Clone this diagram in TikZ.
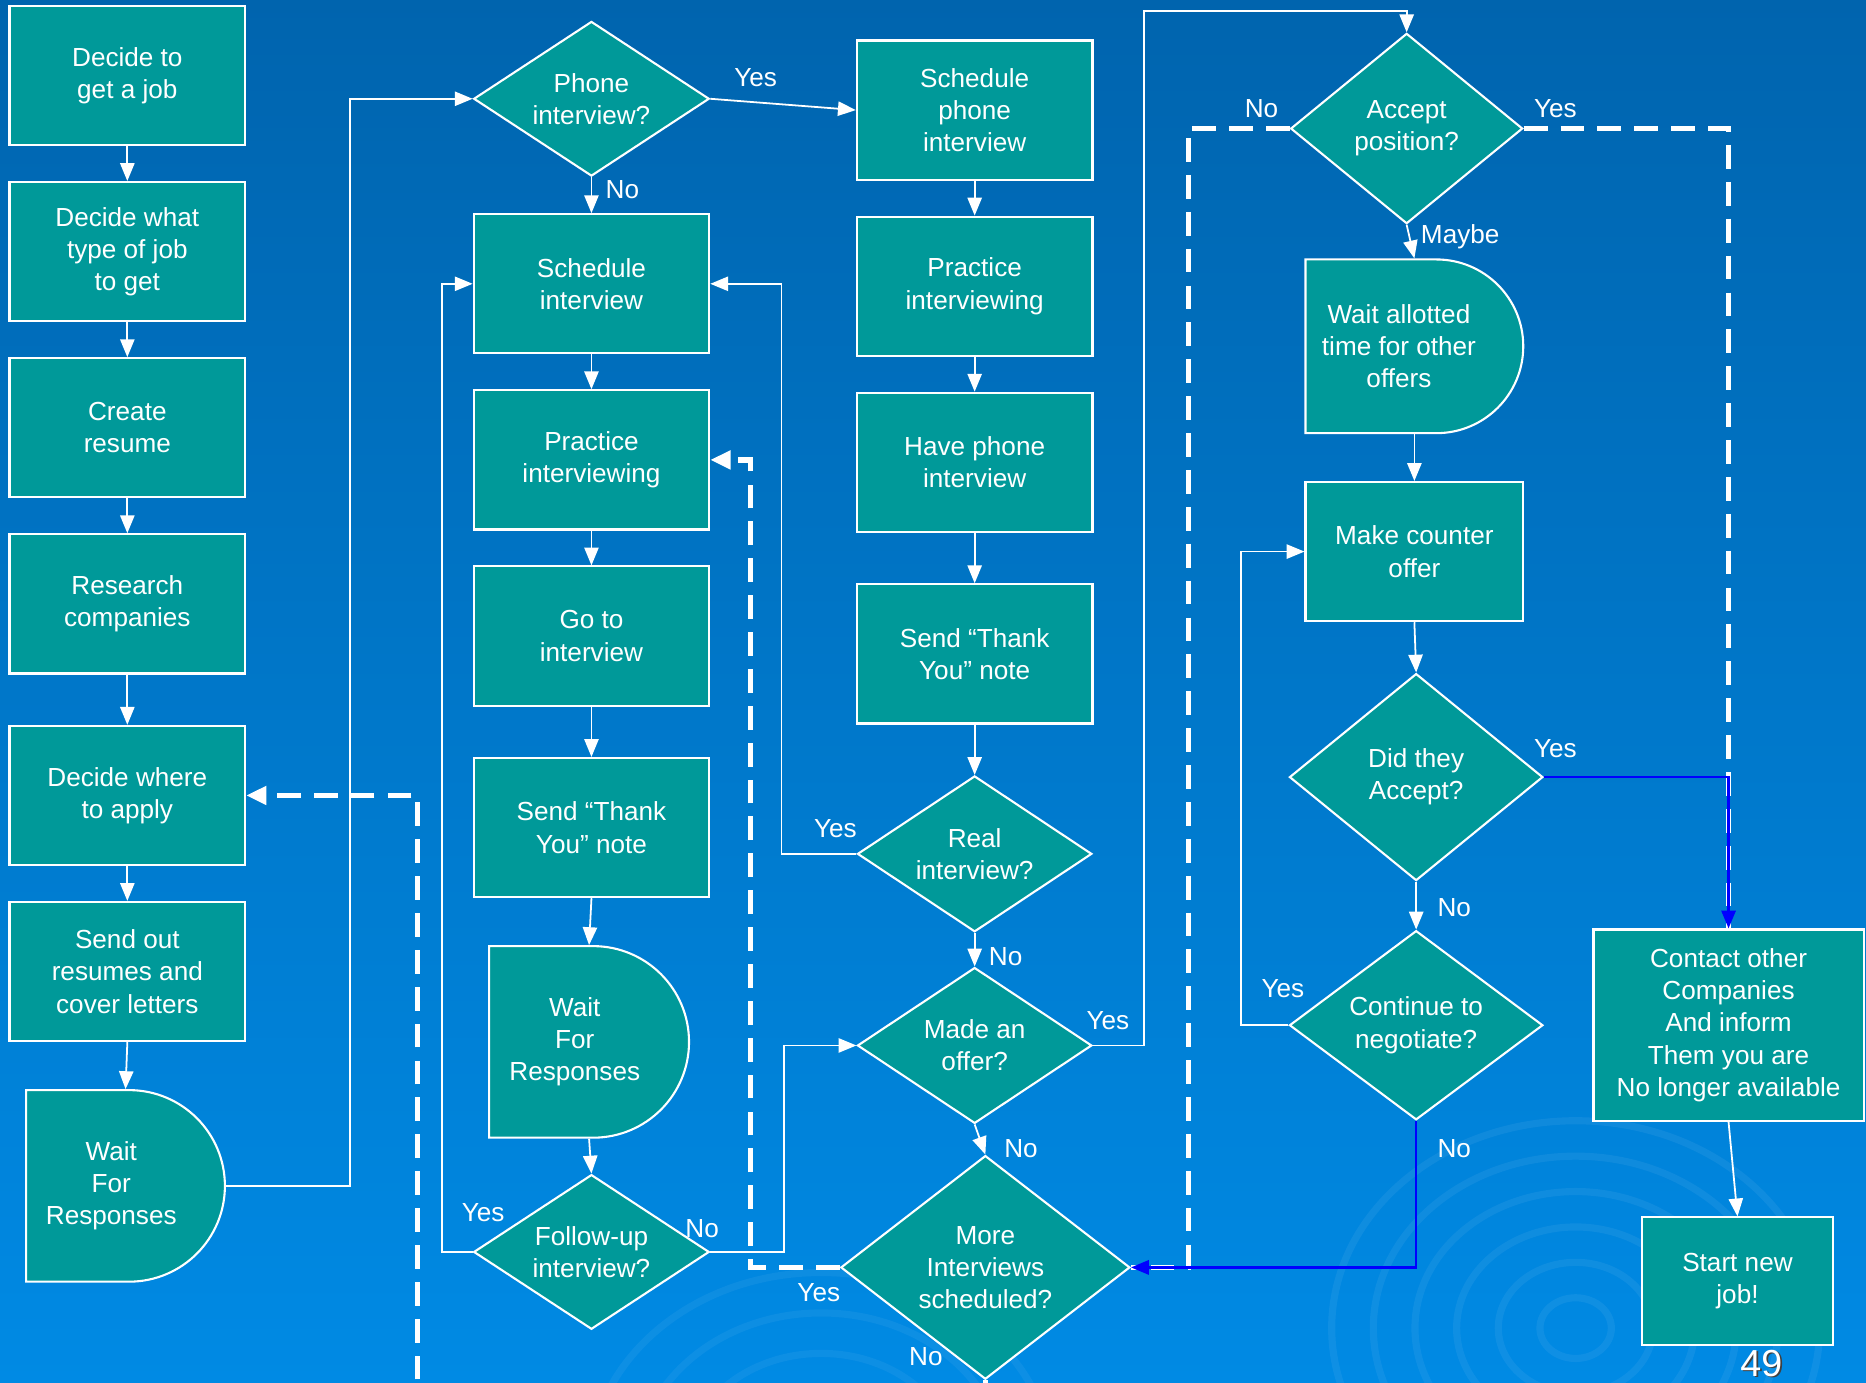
\documentclass[tikz,border=0pt]{standalone}
\usepackage{fontspec}
\setmainfont{Liberation Sans}
\usetikzlibrary{shapes.geometric, shapes.misc, arrows.meta, positioning, calc}
\definecolor{flowteal}{RGB}{0,153,153}
\definecolor{bgtop}{RGB}{0,100,174}
\definecolor{bgmid}{RGB}{0,110,193}
\definecolor{bgbot}{RGB}{0,138,228}
\definecolor{linkblue}{RGB}{0,0,255}

\begin{document}
\begin{tikzpicture}[x=0.02cm, y=-0.02cm,
  every node/.style={font=\fontsize{12.5}{15.4}\selectfont, text=white},
  task/.style={rectangle, draw=white, line width=1pt, fill=flowteal, minimum width=3.96cm, minimum height=2.34cm, inner sep=0pt, align=center},
  waitbox/.style={rounded rectangle, rounded rectangle west arc=none, draw=white, line width=1pt, fill=flowteal, inner sep=0pt},
  query/.style={diamond, draw=white, line width=1pt, fill=flowteal, inner sep=0pt, align=center, aspect=1.52, minimum width=3.96cm, minimum height=2.6cm},
  txt/.style={align=center, inner sep=0pt},
  lbl/.style={inner sep=0pt},
  arr/.style={-{Triangle[length=0.3cm, width=0.24cm]}, white, line width=0.85pt},
  loopback/.style={white, line width=2.5pt, dash pattern=on 0.4cm off 0.22cm},
  looparr/.style={loopback, -{Triangle[length=0.34cm, width=0.3cm]}},
  bluearr/.style={-{Triangle[length=0.3cm, width=0.24cm]}, linkblue, line width=1.1pt}
]
\useasboundingbox (0,0) rectangle (1568,1162);
\clip (0,0) rectangle (1568,1162);
\shade[top color=bgtop, middle color=bgmid, bottom color=bgbot] (0,0) rectangle (1568,1162);
% ripples
\foreach \r in {30,65,100,135,170,205}
  \draw[white, opacity=0.06, line width=0.12cm] (1324,1116) ellipse [x radius=\r, y radius=0.85*\r];
\foreach \r in {35,75,115,155,195}
  \draw[white, opacity=0.05, line width=0.12cm] (690,1235) ellipse [x radius=\r, y radius=0.85*\r];

% getting applications out
\node[task] (n1) at (107,63.5) {Decide to\\get a job};
\node[task, below=0.585cm of n1] (n2) {Decide what\\type of job\\to get};
\node[task, below=0.585cm of n2] (n3) {Create\\resume};
\node[task, below=0.585cm of n3] (n4) {Research\\companies};
\node[task, below=0.845cm of n4] (n5) {Decide where\\to apply};
\node[task, below=0.585cm of n5] (n6) {Send out\\resumes and\\cover letters};
\node[waitbox, minimum width=3.34cm, minimum height=3.22cm] (w1) at (105.5,996.5) {};
\node[txt] (w1t) at ($(w1.center)+(-12,0)$) {Wait\\For\\Responses};

% interviews
\node[query] (d1) at (497,83) {Phone\\interview?};
\node[task, below=0.605cm of d1] (b1) {Schedule\\interview};
\node[task, below=0.585cm of b1] (b2) {Practice\\interviewing};
\node[task, below=0.585cm of b2] (b3) {Go to\\interview};
\node[task, below=0.845cm of b3] (b4) {Send “Thank\\You” note};
\node[waitbox, minimum width=3.36cm, minimum height=3.22cm] (w2) at (495,875.5) {};
\node[txt] (w2t) at ($(w2.center)+(-12,0)$) {Wait\\For\\Responses};
\node[query] (d2) at (497,1052) {Follow-up\\interview?};

% phone interviews
\node[task] (c1) at (819,92.5) {Schedule\\phone\\interview};
\node[task, below=0.585cm of c1] (c2) {Practice\\interviewing};
\node[task, below=0.585cm of c2] (c3) {Have phone\\interview};
\node[task, below=0.845cm of c3] (c4) {Send “Thank\\You” note};
\node[query, aspect=1.5, minimum width=3.94cm, minimum height=2.62cm] (d3) at (819,717.5) {Real\\interview?};
\node[query, aspect=1.5, minimum width=3.94cm, minimum height=2.62cm] (d4) at (819,878.5) {Made an\\offer?};
\node[query, aspect=1.29, minimum width=4.86cm, minimum height=3.76cm] (d5) at (828,1065) {More\\Interviews\\scheduled?};

% offers
\node[query, aspect=1.22, minimum width=3.9cm, minimum height=3.2cm] (d6) at (1182,108) {Accept\\position?};
\node[waitbox, minimum width=3.66cm, minimum height=2.92cm] (w3) at (1188.5,291) {};
\node[txt] (w3t) at ($(w3.center)+(-13,0)$) {Wait allotted\\time for other\\offers};
\node[task, minimum width=3.66cm] (e1) at (1188.5,463.5) {Make counter\\offer};
\node[query, aspect=1.22, minimum width=4.26cm, minimum height=3.48cm] (d7) at (1190,653) {Did they\\Accept?};
\node[query, aspect=1.34, minimum width=4.26cm, minimum height=3.18cm] (d8) at (1190,861.5) {Continue to\\negotiate?};
\node[task, minimum width=4.54cm, minimum height=3.22cm] (f1) at (1452.5,861.5) {Contact other\\Companies\\And inform\\Them you are\\No longer available};
\node[task, minimum width=3.2cm, minimum height=2.14cm] (f2) at (1460,1076.5) {Start new\\job!};

% straight flow
\draw[arr] (n1) -- (n2);
\draw[arr] (n2) -- (n3);
\draw[arr] (n3) -- (n4);
\draw[arr] (n4) -- (n5);
\draw[arr] (n5) -- (n6);
\draw[arr] (n6.south) -- (w1.north);
\draw[arr] (w1.east) -- ++(104,0) |- (d1.west);
\draw[arr] (d1.east) -- (c1.west);
\draw[arr] (d1) -- (b1);
\draw[arr] (b1) -- (b2);
\draw[arr] (b2) -- (b3);
\draw[arr] (b3) -- (b4);
\draw[arr] (b4.south) -- (w2.north);
\draw[arr] (w2.south) -- (d2.north);
\draw[arr] (d2.west) -- ++(-26,0) |- (b1.west);
\draw[arr] (d2.east) -- ++(62,0) |- (d4.west);
\draw[arr] (c1) -- (c2);
\draw[arr] (c2) -- (c3);
\draw[arr] (c3) -- (c4);
\draw[arr] (c4) -- (d3);
\draw[arr] (d3.west) -- ++(-63,0) |- (b1.east);
\draw[arr] (d3) -- (d4);
\draw[arr] (d4.east) -- ++(43,0) |- ($(d6.north)+(0,-18)$) -- (d6.north);
\draw[arr] (d4.south) -- (d5.north);
\draw[arr] (d6.south) -- (w3.north);
\draw[arr] (w3.south) -- (e1.north);
\draw[arr] (e1.south) -- (d7.north);
\draw[arr] (d7) -- (d8);
\draw[arr] (d8.west) -- ++(-40,0) |- (e1.west);
\draw[arr] (f1.south) -- (f2.north);

% dashed returns
\draw[looparr] (d5.west) -- ++(-75,0) |- (b2.east);
\draw[looparr] (d5.south) -- ++(0,40) -| ($(n5.east)+(144,0)$) -- (n5.east);
\draw[loopback] (d6.west) -- ++(-85,0) |- (d5.east);
\draw[loopback] (d6.east) -| (f1.north);
\draw[bluearr] (d7.east) -| (f1.north);
\draw[bluearr] (d8.south) |- (d5.east);

% answers
\node[lbl] (y1) at (635,65) {Yes};
\node[lbl] (o1) at (523,159) {No};
\node[lbl] (y2) at (406,1019) {Yes};
\node[lbl] (o2) at (590,1032) {No};
\node[lbl] (y3) at (702,696) {Yes};
\node[lbl] (o3) at (845,804) {No};
\node[lbl] (y4) at (931,858) {Yes};
\node[lbl] (o4) at (858,965) {No};
\node[lbl] (y5) at (688,1086) {Yes};
\node[lbl] (o5) at (778,1140) {No};
\node[lbl] (o6) at (1060,91) {No};
\node[lbl] (y6) at (1307,91) {Yes};
\node[lbl] (m6) at (1227,199) {Maybe};
\node[lbl] (y7) at (1307,629) {Yes};
\node[lbl] (o7) at (1222,763) {No};
\node[lbl] (y8) at (1078,831) {Yes};
\node[lbl] (o8) at (1222,965) {No};

% slide number
\node[lbl, font=\fontsize{18}{21}\selectfont, text=black!75] (pgs) at (1481.5,1147) {49};
\node[lbl, font=\fontsize{18}{21}\selectfont] (pg) at (1480,1145.5) {49};
\end{tikzpicture}
\end{document}
